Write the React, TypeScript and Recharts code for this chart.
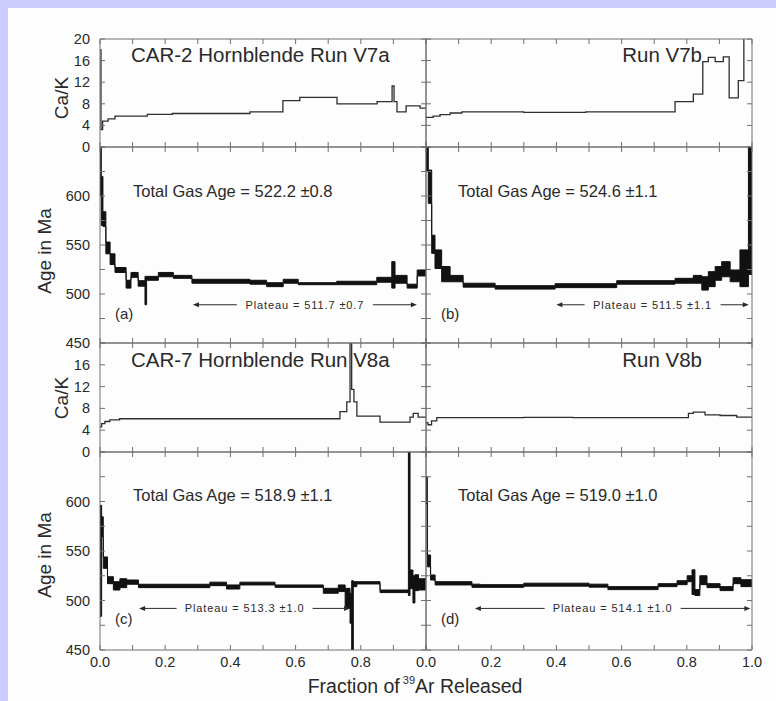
import React from "react";
import { ComposedChart, Line, Area, XAxis, YAxis, ReferenceLine } from "recharts";

const FONT = '"Liberation Sans", Arial, Helvetica, sans-serif';
const INK = "#111";
const TEXT = "#2a2a2a";
const FRAME = "#707070";

// step edges are fractions of 39Ar released; each step runs from edge i to edge i+1
const v7aCaKEdges = [0, 0.003, 0.008, 0.025, 0.046, 0.145, 0.222, 0.46, 0.561, 0.613, 0.727, 0.85, 0.896, 0.902, 0.911, 0.939, 0.982, 1];
const v7aCaK = [18, 3.2, 4.8, 5.2, 5.7, 6.05, 6.2, 6.5, 8.6, 9.2, 8.0, 8.4, 11.3, 8.4, 6.5, 7.6, 7.2];

const v7bCaKEdges = [0, 0.022, 0.043, 0.074, 0.11, 0.3, 0.49, 0.764, 0.82, 0.849, 0.866, 0.887, 0.912, 0.93, 0.958, 0.975, 1];
const v7bCaK = [5.5, 5.7, 6.0, 6.3, 6.5, 6.4, 6.5, 8.4, 9.8, 15.8, 16.6, 15.8, 16.7, 9.1, 12.3, 21];

const v8aCaKEdges = [0, 0.005, 0.015, 0.03, 0.06, 0.736, 0.757, 0.767, 0.772, 0.779, 0.788, 0.859, 0.951, 0.961, 0.976, 1];
const v8aCaK = [4.6, 5.2, 5.6, 5.9, 6.1, 7.4, 9.2, 22, 11.5, 9.2, 6.6, 5.5, 6.4, 7.1, 6.4];

const v8bCaKEdges = [0, 0.006, 0.017, 0.033, 0.3, 0.45, 0.805, 0.82, 0.856, 0.902, 0.953, 1];
const v8bCaK = [5.4, 5.0, 5.7, 6.3, 6.35, 6.3, 7.1, 7.3, 6.8, 6.7, 6.4];

// age spectra: lower and upper bound of each step (Ma)
const v7aAgeEdges = [0, 0.004, 0.009, 0.018, 0.031, 0.046, 0.08, 0.095, 0.117, 0.138, 0.143, 0.179, 0.225, 0.282, 0.46, 0.511, 0.562, 0.608, 0.726, 0.849, 0.895, 0.905, 0.942, 0.973, 1];
const v7aAgeLow = [600, 570, 569, 541, 530, 522, 506, 517, 508, 489, 514, 517.6, 516, 511, 510, 507.5, 511, 509.5, 509.5, 512, 506, 511, 506, 518.4];
const v7aAgeHigh = [700, 620, 584, 553, 541, 527, 514, 522, 513.6, 518, 518, 522, 519, 515, 514, 511.5, 515, 511.5, 513, 517, 533, 519, 510, 524.5];

const v7bAgeEdges = [0, 0.007, 0.0175, 0.0276, 0.048, 0.074, 0.114, 0.212, 0.396, 0.585, 0.764, 0.82, 0.846, 0.866, 0.887, 0.907, 0.933, 0.963, 0.989, 1];
const v7bAgeLow = [626, 592.5, 541.5, 526, 512.5, 512.5, 507, 505, 506.5, 510, 511, 511, 504, 507.5, 514, 517.6, 512.5, 507.5, 520];
const v7bAgeHigh = [670, 626.5, 560, 545, 528, 519, 511, 508.5, 510.5, 513.6, 516, 519, 517.6, 522.8, 528, 533, 524.5, 545, 660];

const v8aAgeEdges = [0, 0.005, 0.01, 0.023, 0.041, 0.061, 0.082, 0.118, 0.337, 0.388, 0.429, 0.537, 0.685, 0.731, 0.752, 0.767, 0.772, 0.777, 0.788, 0.859, 0.946, 0.951, 0.96, 0.966, 0.977, 1];
const v8aAgeLow = [484, 564.5, 532.5, 517, 510.6, 513, 516.4, 513, 515, 511.6, 515.7, 513.3, 507.3, 509, 492, 477, 450, 514, 516.7, 508, 505, 512, 497.5, 510, 510.6];
const v8aAgeHigh = [596, 584.6, 544, 524, 519, 522, 520.7, 516.4, 518.5, 515.7, 518.5, 515.7, 512.3, 515.7, 512.3, 507.3, 520, 519, 519, 510.6, 655, 530.8, 525, 526, 522];

const v8bAgeEdges = [0, 0.004, 0.014, 0.028, 0.141, 0.166, 0.3, 0.5, 0.558, 0.712, 0.77, 0.801, 0.816, 0.825, 0.84, 0.862, 0.902, 0.942, 0.966, 1];
const v8bAgeLow = [598, 534, 520.7, 515.7, 513.3, 513.3, 514.5, 513.5, 511, 514, 516, 519, 506, 505, 516, 513, 510, 517, 514];
const v8bAgeHigh = [625, 546, 525.8, 519, 516.5, 516, 517.5, 516.5, 514, 517, 520, 525, 531, 511, 525, 517, 514, 523, 521];

const runTitles = ["CAR-2 Hornblende Run V7a", "Run V7b", "CAR-7 Hornblende Run V8a", "Run V8b"];
const totalGasAges = ["522.2 \u00b10.8", "524.6 \u00b11.1", "518.9 \u00b11.1", "519.0 \u00b11.0"];
const plateauAges = ["511.7 \u00b10.7", "511.5 \u00b11.1", "513.3 \u00b11.0", "514.1 \u00b11.0"];
const plateauFrom = [0.285, 0.4, 0.12, 0.15];
const plateauTo = [0.972, 0.99, 0.767, 0.995];
const panelLetters = ["(a)", "(b)", "(c)", "(d)"];

const xTicks = [0, 0.1, 0.2, 0.3, 0.4, 0.5, 0.6, 0.7, 0.8, 0.9, 1];
const xLabelsLeft = [0, 0.2, 0.4, 0.6, 0.8];
const xLabelsRight = [0, 0.2, 0.4, 0.6, 0.8, 1];
const caKTicks = [0, 4, 8, 12, 16, 20];
const caKLabelsTop = [0, 4, 8, 12, 16, 20];
const caKLabelsBottom = [0, 4, 8, 12, 16];
const ageTicks = [450, 475, 500, 525, 550, 575, 600, 625, 650];
const ageLabels = [450, 500, 550, 600];

const stepLine = (edges: number[], values: number[]) =>
  edges.map((f, i) => ({ f, v: values[Math.min(i, values.length - 1)] }));

const stepBand = (edges: number[], low: number[], high: number[]) =>
  edges.map((f, i) => {
    const k = Math.min(i, low.length - 1);
    return { f, r: [low[k], high[k]] };
  });

const PLOT_W = 326;
const COL_X = [100, 426];
const PAD = 14; // room around each panel so edge tick labels are not cut

const blank = () => <g />;

const xTick = (labels: number[] | null) => (p: any) =>
  labels && labels.includes(p.payload.value) ? (
    <text x={p.x} y={p.y} textAnchor="middle" dominantBaseline="central" fontSize={14.5} fontFamily={FONT} fill={TEXT}>
      {p.payload.value.toFixed(1)}
    </text>
  ) : (
    <g />
  );

const yTick = (labels: number[] | null) => (p: any) =>
  labels && labels.includes(p.payload.value) ? (
    <text x={p.x} y={p.y} textAnchor="end" dominantBaseline="central" fontSize={14.5} fontFamily={FONT} fill={TEXT}>
      {p.payload.value}
    </text>
  ) : (
    <g />
  );

const plateauShape = (label: string) => (p: any) => {
  const { x1, x2, y1 } = p;
  const cx = (x1 + x2) / 2;
  const gap = 68;
  return (
    <g>
      <line x1={x1 + 5} y1={y1} x2={cx - gap} y2={y1} stroke={TEXT} strokeWidth={1} />
      <polygon points={`${x1},${y1} ${x1 + 6},${y1 - 2.5} ${x1 + 6},${y1 + 2.5}`} fill={TEXT} />
      <line x1={cx + gap} y1={y1} x2={x2 - 5} y2={y1} stroke={TEXT} strokeWidth={1} />
      <polygon points={`${x2},${y1} ${x2 - 6},${y1 - 2.5} ${x2 - 6},${y1 + 2.5}`} fill={TEXT} />
      <text x={cx} y={y1} textAnchor="middle" dominantBaseline="central" fontSize={11} letterSpacing={0.9} fontFamily={FONT} fill={TEXT}>
        Plateau = {label}
      </text>
    </g>
  );
};

type PanelProps = {
  col: number;
  top: number;
  height: number;
  data: any[];
  kind: "cak" | "age";
  yDomain: [number, number];
  yTicks: number[];
  yLabels: number[] | null;
  xLabels: number[] | null;
  plateau?: { from: number; to: number; at: number; label: string };
};

function Panel({ col, top, height, data, kind, yDomain, yTicks, yLabels, xLabels, plateau }: PanelProps) {
  const yW = yLabels ? 60 : 1;
  const xH = xLabels ? 30 : 1;
  const w = yW + PLOT_W + 1 + PAD * 2;
  const h = height + 1 + xH + PAD * 2;
  return (
    <div style={{ position: "absolute", left: COL_X[col] - yW - PAD, top: top - 1 - PAD }}>
      <ComposedChart width={w} height={h} data={data} margin={{ top: PAD, right: PAD, bottom: PAD, left: PAD }}>
        <XAxis xAxisId="b" dataKey="f" type="number" domain={[0, 1]} allowDataOverflow ticks={xTicks} interval={0}
          height={xH} stroke={FRAME} tickSize={-5} tickMargin={17} tick={xTick(xLabels)} />
        <XAxis xAxisId="t" orientation="top" dataKey="f" type="number" domain={[0, 1]} allowDataOverflow ticks={xTicks}
          interval={0} height={1} stroke={FRAME} tickSize={-5} tick={blank} />
        <YAxis yAxisId="l" type="number" domain={yDomain} allowDataOverflow ticks={yTicks} interval={0} width={yW}
          stroke={FRAME} tickSize={-5} tickMargin={15} tick={yTick(yLabels)} />
        <YAxis yAxisId="r" orientation="right" type="number" domain={yDomain} allowDataOverflow ticks={yTicks}
          interval={0} width={1} stroke={FRAME} tickSize={-5} tick={blank} />
        {kind === "age" ? (
          <Area xAxisId="b" yAxisId="l" dataKey="r" type="stepAfter" stroke={INK} strokeWidth={1} fill={INK}
            fillOpacity={1} isAnimationActive={false} />
        ) : (
          <Line xAxisId="b" yAxisId="l" dataKey="v" type="stepAfter" stroke="#2e2e2e" strokeWidth={1.3} dot={false}
            isAnimationActive={false} />
        )}
        {plateau && (
          <ReferenceLine xAxisId="b" yAxisId="l"
            segment={[{ x: plateau.from, y: plateau.at }, { x: plateau.to, y: plateau.at }]}
            shape={plateauShape(plateau.label)} />
        )}
      </ComposedChart>
    </div>
  );
}

const txt = { fontFamily: FONT, fill: TEXT };

export default function App() {
  const caKRuns = [
    stepLine(v7aCaKEdges, v7aCaK),
    stepLine(v7bCaKEdges, v7bCaK),
    stepLine(v8aCaKEdges, v8aCaK),
    stepLine(v8bCaKEdges, v8bCaK),
  ];
  const ageRuns = [
    stepBand(v7aAgeEdges, v7aAgeLow, v7aAgeHigh),
    stepBand(v7bAgeEdges, v7bAgeLow, v7bAgeHigh),
    stepBand(v8aAgeEdges, v8aAgeLow, v8aAgeHigh),
    stepBand(v8bAgeEdges, v8bAgeLow, v8bAgeHigh),
  ];
  const rows = [
    { caKTop: 39, caKH: 108, ageTop: 147, ageH: 196, plateauAt: 489, caKLabels: caKLabelsTop },
    { caKTop: 343, caKH: 109, ageTop: 452, ageH: 198, plateauAt: 492, caKLabels: caKLabelsBottom },
  ];

  return (
    <div style={{ position: "absolute", left: 0, top: 0, width: 776, height: 701, background: "#ccccff" }}>
      <div style={{ position: "absolute", left: 8, top: 8, width: 768, height: 693, background: "#fdfdfd" }} />
      {rows.map((row, r) =>
        [0, 1].map((col) => {
          const i = r * 2 + col;
          return (
            <React.Fragment key={i}>
              <Panel col={col} top={row.caKTop} height={row.caKH} data={caKRuns[i]} kind="cak" yDomain={[0, 20]}
                yTicks={caKTicks} yLabels={col === 0 ? row.caKLabels : null} xLabels={null} />
              <Panel col={col} top={row.ageTop} height={row.ageH} data={ageRuns[i]} kind="age" yDomain={[450, 650]}
                yTicks={ageTicks} yLabels={col === 0 ? ageLabels : null}
                xLabels={r === 1 ? (col === 0 ? xLabelsLeft : xLabelsRight) : null}
                plateau={{ from: plateauFrom[i], to: plateauTo[i], at: row.plateauAt, label: plateauAges[i] }} />
            </React.Fragment>
          );
        })
      )}
      <svg width={776} height={701} style={{ position: "absolute", left: 0, top: 0, pointerEvents: "none" }}>
        <text x={131} y={61.5} fontSize={20.5} {...txt}>{runTitles[0]}</text>
        <text x={702} y={61.5} fontSize={20.5} textAnchor="end" {...txt}>{runTitles[1]}</text>
        <text x={131} y={366.5} fontSize={20.5} {...txt}>{runTitles[2]}</text>
        <text x={702} y={366.5} fontSize={20.5} textAnchor="end" {...txt}>{runTitles[3]}</text>

        <text x={133} y={197} fontSize={16.5} {...txt}>Total Gas Age = {totalGasAges[0]}</text>
        <text x={458} y={197} fontSize={16.5} {...txt}>Total Gas Age = {totalGasAges[1]}</text>
        <text x={133} y={501} fontSize={16.5} {...txt}>Total Gas Age = {totalGasAges[2]}</text>
        <text x={458} y={501} fontSize={16.5} {...txt}>Total Gas Age = {totalGasAges[3]}</text>

        <text x={115} y={319} fontSize={15} {...txt}>{panelLetters[0]}</text>
        <text x={441} y={319} fontSize={15} {...txt}>{panelLetters[1]}</text>
        <text x={115} y={624} fontSize={15} {...txt}>{panelLetters[2]}</text>
        <text x={441} y={624} fontSize={15} {...txt}>{panelLetters[3]}</text>

        <text transform="translate(68,98) rotate(-90)" textAnchor="middle" fontSize={19} {...txt}>Ca/K</text>
        <text transform="translate(51,251) rotate(-90)" textAnchor="middle" fontSize={19} {...txt}>Age in Ma</text>
        <text transform="translate(68,398) rotate(-90)" textAnchor="middle" fontSize={19} {...txt}>Ca/K</text>
        <text transform="translate(51,555) rotate(-90)" textAnchor="middle" fontSize={19} {...txt}>Age in Ma</text>

        <text x={415} y={693} textAnchor="middle" fontSize={19.5} {...txt}>
          Fraction of
          <tspan fontSize={11} dy={-9} dx={3}>39</tspan>
          <tspan dy={9}>Ar Released</tspan>
        </text>
      </svg>
    </div>
  );
}
